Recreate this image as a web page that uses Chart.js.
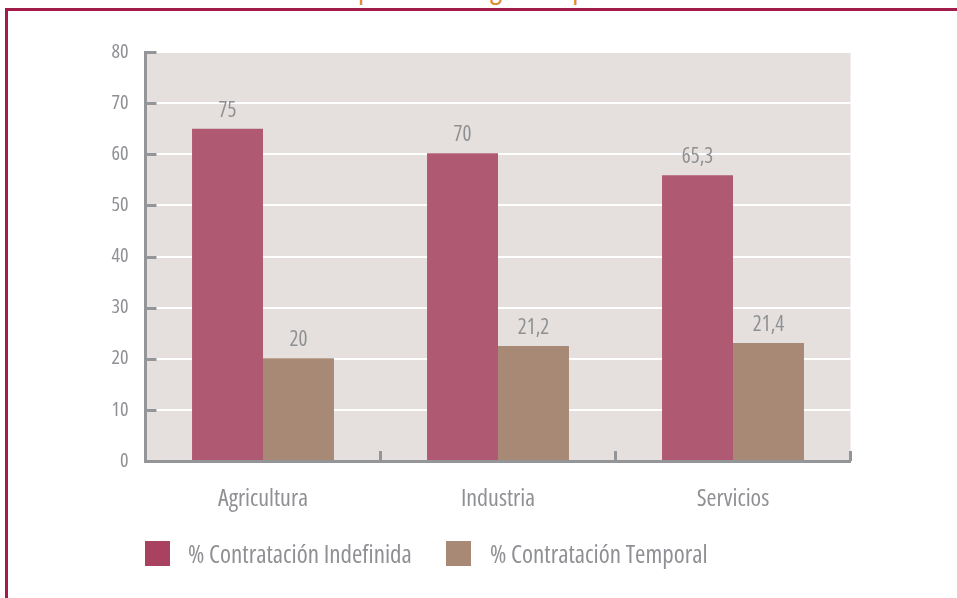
<!DOCTYPE html>
<html lang="es">
<head>
<meta charset="utf-8">
<title>Contratación por sector</title>
<script src="https://cdn.jsdelivr.net/npm/chart.js@4.4.1/dist/chart.umd.min.js"></script>
<style>
  html, body { margin: 0; padding: 0; background: #ffffff; overflow: hidden; }
  #wrap { position: relative; width: 957px; height: 598px; }
  #frame {
    position: absolute; left: 5px; top: 8px; width: 1000px; height: 700px;
    border-top: 3px solid #a31b4b; border-left: 3px solid #a31b4b;
  }
  #title {
    position: absolute; left: 0; top: -33px; width: 957px; text-align: center;
    font: condensed 30px/40px 'Open Sans', 'Liberation Sans', sans-serif;
    color: #de8c32; white-space: nowrap;
  }
  #chart { position: absolute; left: 0; top: 0; }
</style>
</head>
<body>
<div id="wrap">
  <div id="title">Asalariados por sector según el tipo de contrato</div>
  <div id="frame"></div>
  <canvas id="chart" width="957" height="598"></canvas>
</div>
<script>
// Datos
const categories = ['Agricultura', 'Industria', 'Servicios'];
const seriesNames = ['% Contratación Indefinida', '% Contratación Temporal'];
// altura de las barras tal como se dibujan
const indefinida = [65, 60.2, 55.9];
const temporal = [20.1, 22.5, 23.1];
// etiquetas que aparecen encima de cada barra
const indefinidaLabels = ['75', '70', '65,3'];
const temporalLabels = ['20', '21,2', '21,4'];
const yTicks = [0, 10, 20, 30, 40, 50, 60, 70, 80];

const FAMILY = "'Open Sans', 'Liberation Sans', sans-serif";
const STRETCH = 'condensed';
const GRAY = '#8f9094';
const AXIS = '#939598';
const barColors = ['#b05972', '#a88975'];
const legendColors = ['#a84260', '#a88975'];

Chart.defaults.font.family = FAMILY;
Chart.defaults.font.weight = STRETCH; // se cuela como font-stretch en la cadena del canvas

// fondo del area de trazado
const plotBg = {
  id: 'plotBg',
  beforeDraw(chart) {
    const { ctx, chartArea: a } = chart;
    ctx.save();
    ctx.fillStyle = '#e5e0dd';
    ctx.fillRect(a.left, a.top, a.right - a.left, a.bottom - a.top);
    ctx.restore();
  }
};

// marcas cortas hacia dentro en los ejes
const axisMarks = {
  id: 'axisMarks',
  afterDraw(chart) {
    const { ctx, chartArea: a, scales } = chart;
    ctx.save();
    ctx.strokeStyle = AXIS;
    ctx.lineWidth = 3;
    yTicks.forEach(v => {
      const y = Math.round(scales.y.getPixelForValue(v)) + 0.5;
      ctx.beginPath();
      ctx.moveTo(a.left, y);
      ctx.lineTo(a.left + 11, y);
      ctx.stroke();
    });
    const step = (a.right - a.left) / categories.length;
    for (let i = 1; i <= categories.length; i++) {
      const x = Math.round(a.left + step * i) - 0.5;
      ctx.beginPath();
      ctx.moveTo(x, a.bottom);
      ctx.lineTo(x, a.bottom - 10);
      ctx.stroke();
    }
    ctx.restore();
  }
};

// valores encima de las barras
const valueLabels = {
  id: 'valueLabels',
  afterDatasetsDraw(chart) {
    const { ctx } = chart;
    const texts = [indefinidaLabels, temporalLabels];
    ctx.save();
    ctx.font = STRETCH + ' 21px ' + FAMILY;
    ctx.fillStyle = GRAY;
    ctx.textAlign = 'center';
    ctx.textBaseline = 'middle';
    chart.data.datasets.forEach((ds, i) => {
      chart.getDatasetMeta(i).data.forEach((bar, j) => {
        ctx.fillText(texts[i][j], bar.x, bar.y - 18);
      });
    });
    ctx.restore();
  }
};

// leyenda dibujada a mano
const bottomLegend = {
  id: 'bottomLegend',
  afterDraw(chart) {
    const { ctx } = chart;
    const boxes = [145, 446];
    const textX = [188, 490];
    ctx.save();
    ctx.font = STRETCH + ' 25px ' + FAMILY;
    ctx.textBaseline = 'middle';
    seriesNames.forEach((name, i) => {
      ctx.fillStyle = legendColors[i];
      ctx.fillRect(boxes[i], 541, 25, 25);
      ctx.fillStyle = GRAY;
      ctx.fillText(name, textX[i], 556);
    });
    ctx.restore();
  }
};

new Chart(document.getElementById('chart'), {
  type: 'bar',
  data: {
    labels: categories,
    datasets: [
      { label: seriesNames[0], data: indefinida, backgroundColor: barColors[0] },
      { label: seriesNames[1], data: temporal, backgroundColor: barColors[1] }
    ]
  },
  options: {
    responsive: false,
    animation: false,
    devicePixelRatio: 1,
    layout: { padding: { left: 0, top: 52, right: 106.5, bottom: 0 } },
    datasets: { bar: { categoryPercentage: 0.604, barPercentage: 1 } },
    plugins: { legend: { display: false }, tooltip: { enabled: false } },
    scales: {
      x: {
        grid: { display: false },
        border: { display: true, color: AXIS, width: 3 },
        ticks: { color: GRAY, font: { size: 24 }, padding: 16 },
        afterFit(s) { s.height = 137; }
      },
      y: {
        min: 0,
        max: 80,
        afterBuildTicks(s) { s.ticks = yTicks.map(v => ({ value: v })); },
        grid: { color: '#ffffff', lineWidth: 2, drawTicks: false },
        border: { display: true, color: AXIS, width: 3 },
        ticks: { color: GRAY, font: { size: 20 }, padding: 17 },
        afterFit(s) { s.width = 145.5; }
      }
    }
  },
  plugins: [plotBg, axisMarks, valueLabels, bottomLegend]
});
</script>
</body>
</html>
